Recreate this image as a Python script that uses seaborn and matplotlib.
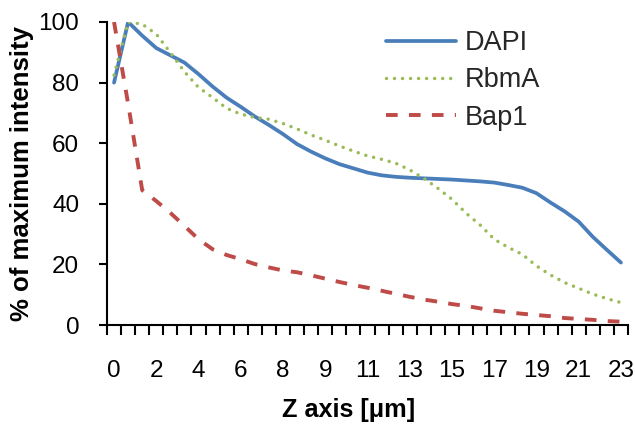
import matplotlib
matplotlib.use("Agg")
import matplotlib.pyplot as plt
import seaborn as sns
import pandas as pd
import numpy as np

# ---- data ----
series_names = ["DAPI", "RbmA", "Bap1"]
dapi = [80, 100, 95.5, 91.4, 89, 86.6, 82.8, 78.7, 75, 72, 68.8, 66, 63, 59.7, 57.2,
        55, 53.1, 51.7, 50.3, 49.4, 48.9, 48.6, 48.4, 48.2, 48, 47.7, 47.4, 47, 46.2,
        45.3, 43.5, 40.4, 37.5, 34.1, 29.1, 24.8, 20.6]
rbma = [82.5, 100, 99.3, 96, 89.9, 83.6, 78.4, 75.1, 71.5, 69.6, 68.5, 67.9, 66.5,
        64.7, 62.7, 61, 59.1, 57.4, 55.8, 54.7, 53.4, 51.2, 48.4, 45.1, 41.5, 36.9, 33,
        28.3, 25.6, 23.3, 19.5, 16.5, 14, 12.1, 10.2, 8.7, 7.4]
bap1 = [100, 73, 44.5, 40.9, 37, 32.7, 28.3, 25, 23.1, 21.7, 20.1, 19, 18, 17.4, 16.4,
        15.3, 14.2, 13.2, 12.3, 11.3, 10.3, 9.3, 8.4, 7.7, 6.9, 6.3, 5.5, 4.7, 4.2, 3.7,
        3.3, 2.9, 2.3, 2.0, 1.7, 1.3, 1.1]
z_labels = ["0", "2", "4", "6", "8", "9", "11", "13", "15", "17", "19", "21", "23"]
y_ticks = [0, 20, 40, 60, 80, 100]

colors = {"DAPI": "#4A7EBB", "RbmA": "#9BBB59", "Bap1": "#BE4B48"}

sns.set_style("white")
plt.rcParams["font.family"] = ["Liberation Sans", "DejaVu Sans"]

fig = plt.figure(figsize=(6.35, 4.29), dpi=100)
ax = fig.add_axes([107 / 635, 1 - 325 / 429, (628 - 107) / 635, (325 - 22) / 429])

idx = np.arange(len(dapi))
sns.lineplot(x=idx, y=dapi, ax=ax, color=colors["DAPI"], lw=2.7,
             linestyle="-", label="DAPI")
sns.lineplot(x=idx, y=rbma, ax=ax, color=colors["RbmA"], lw=2.5,
             linestyle=(0, (0.01, 2.3)), dash_capstyle="round", label="RbmA")
sns.lineplot(x=idx, y=bap1, ax=ax, color=colors["Bap1"], lw=2.8,
             linestyle=(0, (3.0, 2.9)), label="Bap1")

ax.set_xlim(-0.5, len(dapi) - 0.5)
ax.set_ylim(0, 100)

# boundary tick marks (Excel category style)
ax.set_xticks(np.arange(-0.5, len(dapi), 1.0))
ax.set_xticklabels([])
ax.tick_params(axis="x", which="major", bottom=True, length=7, width=1.5,
               color="black", direction="out")
ax.set_xticks(np.arange(0, len(dapi), 3), minor=True)
ax.set_xticklabels(z_labels, minor=True)
ax.tick_params(axis="x", which="minor", bottom=True, length=0, pad=25,
               labelsize=17.5, labelcolor="black")

ax.set_yticks(y_ticks)
ax.set_yticklabels([str(v) for v in y_ticks])
ax.tick_params(axis="y", left=True, length=6, width=1.5, color="black",
               direction="out", pad=14, labelsize=17.5, labelcolor="black")

for s in ["top", "right"]:
    ax.spines[s].set_visible(False)
for s in ["left", "bottom"]:
    ax.spines[s].set_color("black")
    ax.spines[s].set_linewidth(1.5)

ax.set_xlabel("Z axis [μm]", fontsize=18.2, fontweight="bold", color="black")
ax.xaxis.set_label_coords((349 - 107) / 521, -(410 - 325) / 303)
ax.xaxis.label.set_va("center")
ax.set_ylabel("% of maximum intensity", fontsize=18.5, fontweight="bold", color="black")
ax.yaxis.set_label_coords(-(107 - 22) / 521, 0.5)
ax.yaxis.label.set_va("center")

leg = ax.legend(loc="upper left", bbox_to_anchor=(386 / 635, 1 - 30 / 429),
                bbox_transform=fig.transFigure, frameon=False, fontsize=19.5,
                handlelength=2.6, handletextpad=0.3, labelspacing=0.42, borderpad=0,
                borderaxespad=0)

fig.savefig("out.png", dpi=100)
